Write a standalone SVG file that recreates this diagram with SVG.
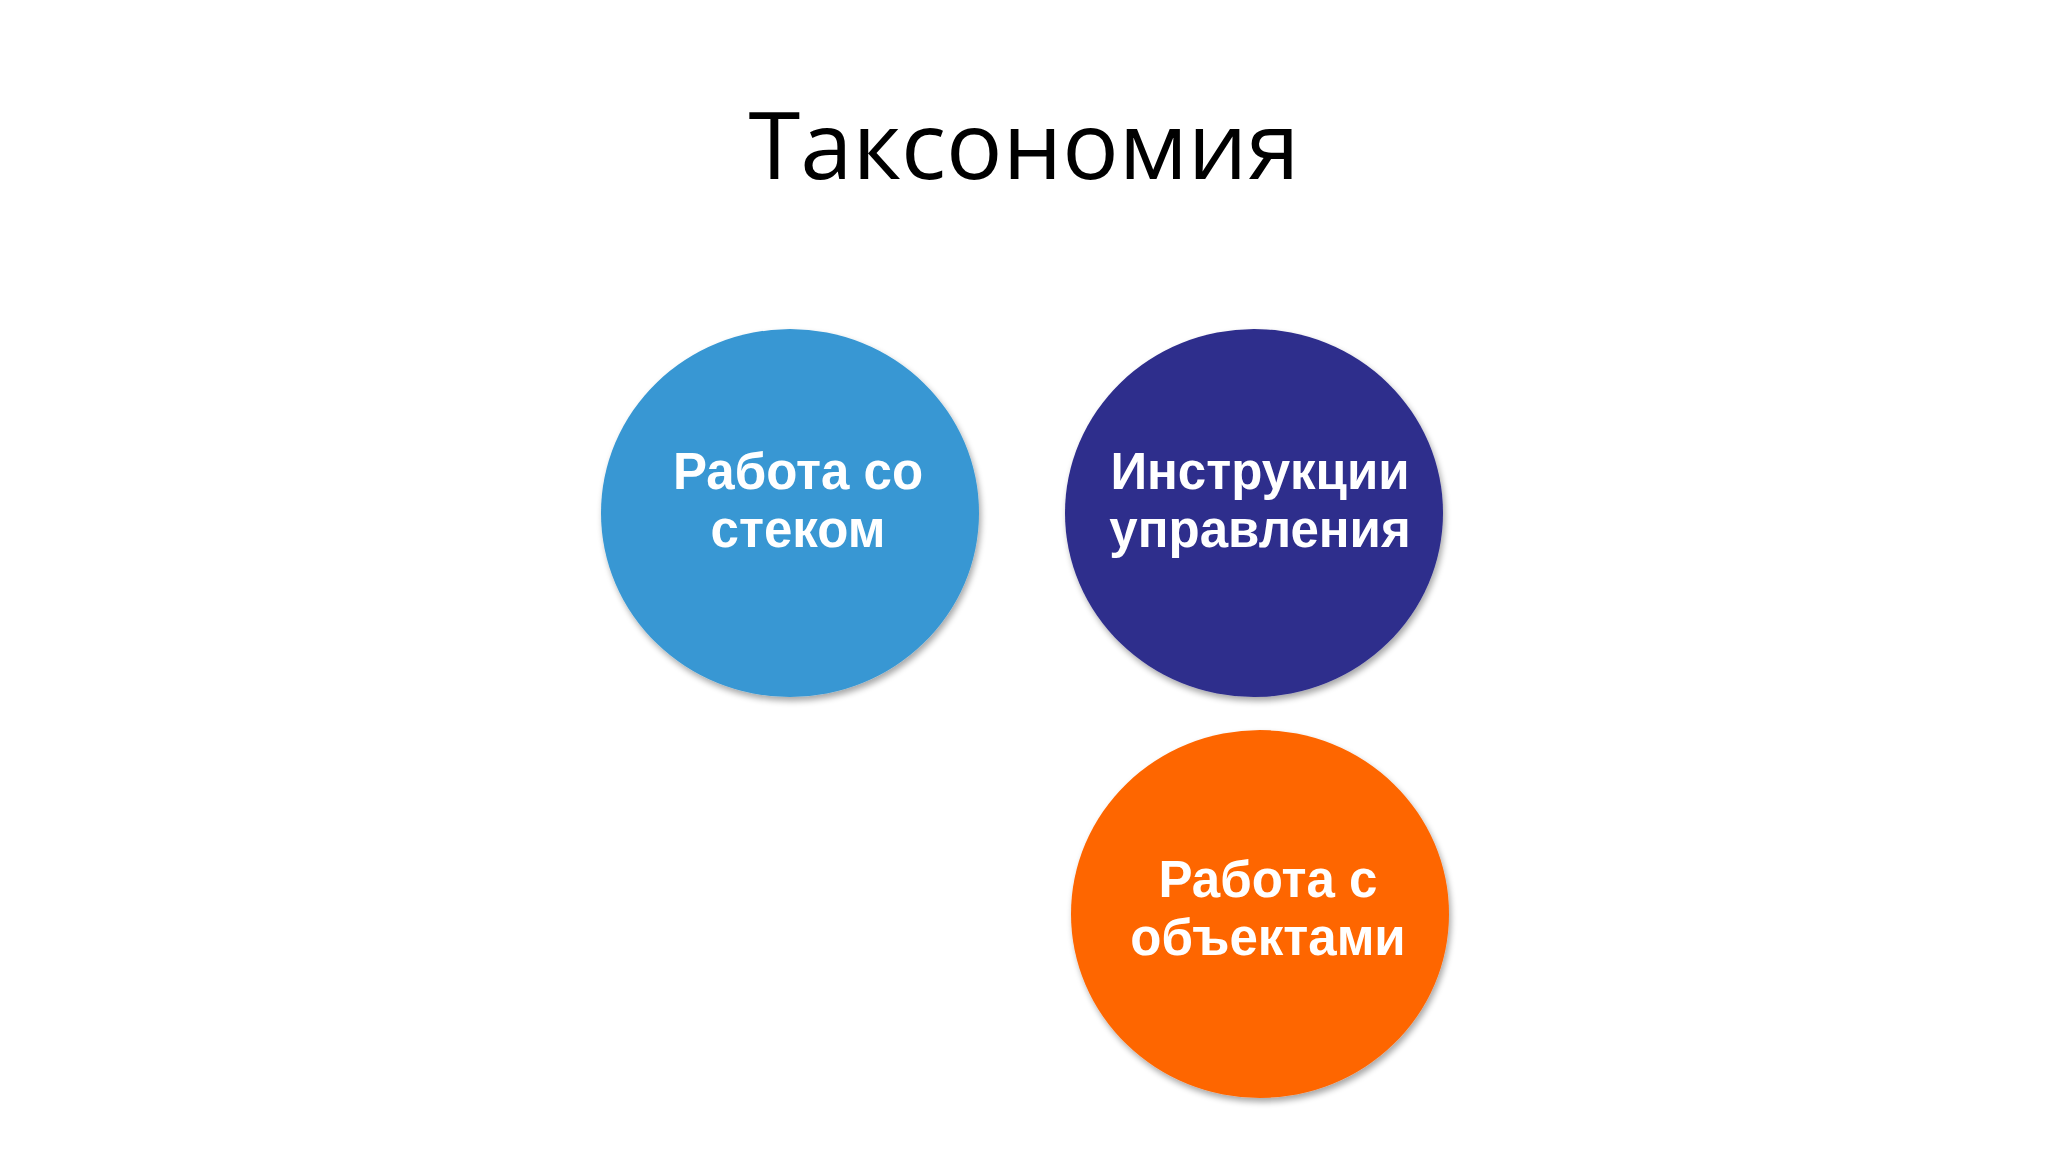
<svg xmlns="http://www.w3.org/2000/svg" width="2048" height="1152" viewBox="0 0 2048 1152">
<defs>
<filter id="sh" x="-20%" y="-20%" width="140%" height="140%">
<feGaussianBlur in="SourceAlpha" stdDeviation="3"/>
<feOffset dx="2" dy="4" result="b"/>
<feComponentTransfer><feFuncA type="linear" slope="0.35"/></feComponentTransfer>
<feMerge><feMergeNode/><feMergeNode in="SourceGraphic"/></feMerge>
</filter>
</defs>
<style>
.title{font-family:"Open Sans","Noto Sans",sans-serif;font-size:94px;fill:#000}
.lbl{font-family:"Liberation Sans",Arial,sans-serif;font-weight:bold;font-size:51px;fill:#fff;text-anchor:middle}
</style>
<rect width="2048" height="1152" fill="#fff"/>
<text class="title" x="1024" y="179" text-anchor="middle">Таксономия</text>
<g id="node-stack">
<ellipse cx="790" cy="513" rx="189" ry="184" fill="#3797D3" filter="url(#sh)"/>
<text class="lbl" x="798" y="489">Работа со</text>
<text class="lbl" x="798" y="547">стеком</text>
</g>
<g id="node-control">
<ellipse cx="1254" cy="513" rx="189" ry="184" fill="#2E2D8C" filter="url(#sh)"/>
<text class="lbl" x="1260" y="489">Инструкции</text>
<text class="lbl" x="1260" y="547">управления</text>
</g>
<g id="node-objects">
<ellipse cx="1260" cy="914" rx="189" ry="184" fill="#FE6602" filter="url(#sh)"/>
<text class="lbl" x="1268" y="897">Работа с</text>
<text class="lbl" x="1268" y="955">объектами</text>
</g>
<g id="connectors"/>
</svg>
